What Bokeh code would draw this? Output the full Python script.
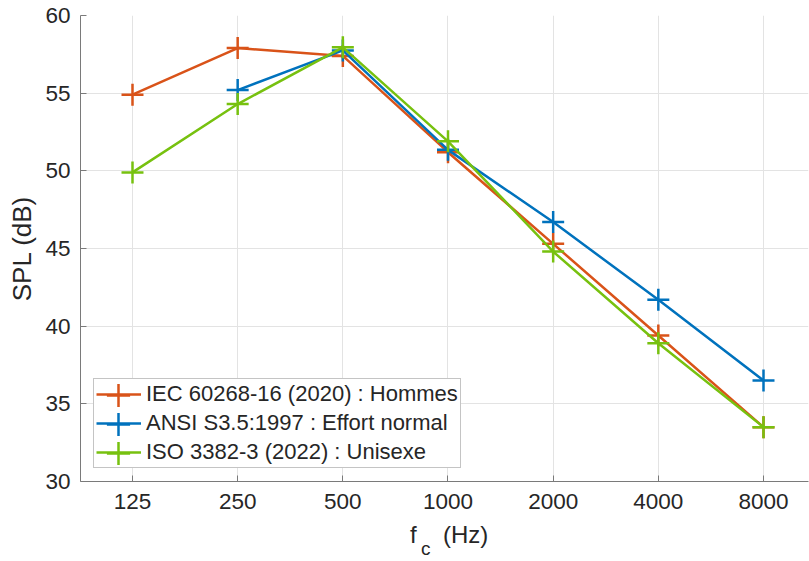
from bokeh.plotting import figure
from bokeh.layouts import column
from bokeh.models import Range1d, FixedTicker, Legend, LegendItem
from bokeh.core.properties import value
from bokeh.embed import file_html
from bokeh.resources import INLINE

# ---- data ----
freqs = [125, 250, 500, 1000, 2000, 4000, 8000]
xtick_labels = ["125", "250", "500", "1000", "2000", "4000", "8000"]
yticks = [30, 35, 40, 45, 50, 55, 60]

iec_f = [125, 250, 500, 1000, 2000, 4000, 8000]
iec_spl = [54.9, 57.9, 57.4, 51.2, 45.3, 39.4, 33.5]

ansi_f = [250, 500, 1000, 2000, 4000, 8000]
ansi_spl = [55.2, 57.75, 51.35, 46.7, 41.7, 36.5]

iso_f = [125, 250, 500, 1000, 2000, 4000, 8000]
iso_spl = [49.9, 54.3, 57.95, 51.9, 44.8, 38.9, 33.5]

names = ["IEC 60268-16 (2020) : Hommes",
         "ANSI S3.5:1997 : Effort normal",
         "ISO 3382-3 (2022) : Unisexe"]
colors = ["#D95319", "#0072BD", "#77C10F"]

FONT = "Liberation Sans"
TXT = "#262626"

px_oct = 105.17
x0 = 125 * 2 ** (-52 / px_oct)
x1 = 8000 * 2 ** (45 / px_oct)
xr = Range1d(x0, x1)

p = figure(width=809, height=522, x_axis_type="log",
           x_range=xr, y_range=Range1d(30, 60),
           output_backend="svg", toolbar_location=None,
           min_border_left=80, min_border_right=1,
           min_border_top=15, min_border_bottom=41)
p.outline_line_color = None
p.background_fill_color = "white"
p.border_fill_color = "white"

# axes
p.xaxis.ticker = FixedTicker(ticks=freqs, minor_ticks=[])
p.xaxis.major_label_overrides = {f: l for f, l in zip(freqs, xtick_labels)}
p.yaxis.ticker = FixedTicker(ticks=yticks, minor_ticks=[])
for ax in (p.xaxis[0], p.yaxis[0]):
    ax.axis_line_color = "#7a7a7a"
    ax.major_tick_line_color = "#7a7a7a"
    ax.major_tick_in = 6
    ax.major_tick_out = 0
    ax.minor_tick_in = 0
    ax.minor_tick_out = 0
    ax.major_label_text_font = FONT
    ax.major_label_text_font_size = "22.5px"
    ax.major_label_text_color = TXT
    ax.axis_label_text_font = FONT
    ax.axis_label_text_font_size = "26px"
    ax.axis_label_text_font_style = "normal"
    ax.axis_label_text_color = TXT
p.xaxis.major_label_standoff = 12
p.yaxis.major_label_standoff = 10
p.yaxis.axis_label = "SPL (dB)"
p.yaxis.axis_label_standoff = 5

p.xgrid.grid_line_color = "#e3e3e3"
p.ygrid.grid_line_color = "#e3e3e3"

line_items = []
marker_rs = []
for fx, fy, name, col in [(iec_f, iec_spl, names[0], colors[0]),
                          (ansi_f, ansi_spl, names[1], colors[1]),
                          (iso_f, iso_spl, names[2], colors[2])]:
    r1 = p.line(fx, fy, line_color=col, line_width=2.5)
    r2 = p.scatter(fx, fy, marker="cross", size=22, line_color=col, line_width=2.5)
    line_items.append(LegendItem(label=name, renderers=[r1]))
    marker_rs.append(r2)

# main legend: box, labels and line samples
LX, LY, PAD, ROW, SP = 13, 13, 2, 26, 3
legend = Legend(items=line_items, location=(LX, LY), orientation="vertical",
                label_text_font=FONT, label_text_font_size="22px",
                label_text_color=TXT, glyph_width=45, glyph_height=ROW,
                label_height=ROW, label_standoff=5, spacing=SP, padding=PAD,
                margin=0, border_line_color="#8a8a8a", border_line_width=1,
                background_fill_color="white", background_fill_alpha=1.0)
p.add_layout(legend)

# full-size '+' samples over the line samples (legend markers are drawn at
# 0.4 x the glyph box, so a 58 px box gives a 23 px cross)
BIG = 58
cx = LX + PAD + 45 / 2
for i, r2 in enumerate(marker_rs):
    cy = LY + PAD + ROW / 2 + (2 - i) * (ROW + SP)
    ov = Legend(items=[LegendItem(label=" ", renderers=[r2])],
                location=(cx - BIG / 2, cy - BIG / 2), orientation="vertical",
                glyph_width=BIG, glyph_height=BIG, label_height=BIG,
                label_width=0, label_standoff=0, padding=0, margin=0,
                spacing=0, border_line_color=None, background_fill_alpha=0.0,
                label_text_font_size="1px")
    p.add_layout(ov)

# x-axis title "f_c (Hz)" with a real subscript, drawn in a strip below
q = figure(width=809, height=39, x_axis_type="log", x_range=xr,
           y_range=Range1d(0, 39), output_backend="svg", toolbar_location=None,
           x_axis_location=None, y_axis_location=None, title=None,
           min_border_left=80, min_border_right=1,
           min_border_top=0, min_border_bottom=0)
q.outline_line_color = None
q.xgrid.visible = False
q.ygrid.visible = False
xc = freqs[3]
common = dict(text_font=value(FONT), text_color=TXT, text_baseline="alphabetic")
q.text(x=[xc], y=[27], text=["f"], x_offset=-38, text_font_size="24px", **common)
q.text(x=[xc], y=[13], text=["c"], x_offset=-27, text_font_size="19px", **common)
q.text(x=[xc], y=[27], text=["(Hz)"], x_offset=-5, text_font_size="24px", **common)

layout = column(p, q, spacing=0)
open("out.html", "w").write(file_html(layout, INLINE))
